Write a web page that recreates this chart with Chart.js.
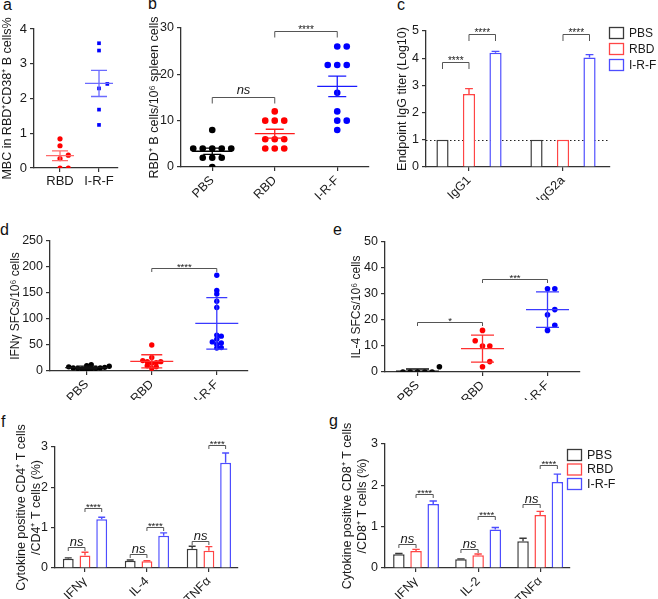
<!DOCTYPE html>
<html>
<head>
<meta charset="utf-8">
<script src="https://cdn.jsdelivr.net/npm/chart.js@4"></script>
<style>
  body { margin: 0; width: 658px; height: 599px; position: relative; background: #fff; overflow: hidden; font-family: Arial, "Liberation Sans", sans-serif; }
  canvas { position: absolute; }
  .tag { position: absolute; font-size: 16px; line-height: 16px; color: #111; }
</style>
</head>
<body>
<div class="tag" style="left:3px;top:-3.5px">a</div>
<div class="tag" style="left:148px;top:-4.5px">b</div>
<div class="tag" style="left:397px;top:-3.5px">c</div>
<div class="tag" style="left:0px;top:221.5px">d</div>
<div class="tag" style="left:333px;top:221.5px">e</div>
<div class="tag" style="left:1px;top:413.5px">f</div>
<div class="tag" style="left:329px;top:412.5px">g</div>
<canvas id="pa"></canvas>
<canvas id="pb"></canvas>
<canvas id="pc"></canvas>
<canvas id="pd"></canvas>
<canvas id="pe"></canvas>
<canvas id="pf"></canvas>
<canvas id="pg"></canvas>
<script>
// ---- data ----
// a: memory B cells
const aGroups = ['RBD', 'I-R-F'];
const aRBD = [0.84, 0.64, 0.37, 0.27, 0, 0];
const aIRF = [3.59, 3.38, 2.42, 2.29, 1.68, 1.24];

// b: RBD+ B cells
const bGroups = ['PBS', 'RBD', 'I-R-F'];
const bPBS = [8, 4, 4, 4, 4, 4, 2, 2, 2, 0];
const bRBD = [12, 10, 10, 10, 6, 6, 6, 4, 4, 4];
const bIRF = [26, 26, 22, 22, 22, 16, 12, 10, 10, 8];

// c: endpoint titers
const cCats = ['IgG1', 'IgG2a'];
const cPBS = [1, 1], cPBSerr = [0, 0];
const cRBD = [2.68, 1], cRBDerr = [0.2, 0];
const cIRF = [4.2, 4.03], cIRFerr = [0.05, 0.1];

// d: IFNγ ELISpot
const dGroups = ['PBS', 'RBD', 'I-R-F'];
const dPBS = [3, 5, 6, 4, 8, 10, 12, 7, 5, 9, 6, 4];
const dRBD = [50, 26, 18, 16, 10, 5, 8, 15, 18, 20];
const dIRF = [184, 155, 148, 134, 122, 67, 69, 61, 56, 51, 54, 44, 45];

// e: IL-4 ELISpot
const eGroups = ['PBS', 'RBD', 'I-R-F'];
const ePBS = [0, 0, 0, 0, 0, 2];
const eRBD = [16, 12, 10, 10, 4, 2];
const eIRF = [32, 32, 24, 22, 18, 16];

// f: CD4+ cytokines
const fCats = ['IFNγ', 'IL-4', 'TNFα'];
const fPBS = [0.23, 0.18, 0.48], fPBSerr = [0.02, 0.02, 0.06];
const fRBD = [0.31, 0.17, 0.43], fRBDerr = [0.08, 0.01, 0.1];
const fIRF = [1.21, 0.8, 2.61], fIRFerr = [0.05, 0.07, 0.24];

// g: CD8+ cytokines
const gCats = ['IFNγ', 'IL-2', 'TNFα'];
const gPBS = [0.33, 0.21, 0.65], gPBSerr = [0.02, 0.01, 0.07];
const gRBD = [0.41, 0.31, 1.28], gRBDerr = [0.04, 0.03, 0.09];
const gIRF = [1.55, 0.93, 2.08], gIRFerr = [0.07, 0.05, 0.19];

const groupNames = ['PBS', 'RBD', 'I-R-F'];

// ---- look ----
const FONT = 'Arial, "Liberation Sans", sans-serif';
const INK = '#1a1a1a';
const AXIS = '#333';
const BAR_COLORS = ['#3a3a3a', '#ff4545', '#4d4dff'];

// spread points of one column so they don't sit on each other (simple beeswarm)
function swarm(vals, pxY, pxX, step, dia) {
  const placed = [];
  const off = new Array(vals.length);
  vals.map((v, i) => i).sort((p, q) => vals[p] - vals[q]).forEach(i => {
    const py = vals[i] * pxY;
    for (let k = 0; ; k++) {
      const dx = (k % 2 ? 1 : -1) * Math.ceil(k / 2) * step;
      if (placed.every(p => (p.x - dx) ** 2 + (p.y - py) ** 2 >= dia * dia)) {
        placed.push({ x: dx, y: py });
        off[i] = dx / pxX;
        break;
      }
    }
  });
  return off;
}

// extra drawing: mean/error lines, error bars, brackets, dotted line, box legend
const marks = {
  id: 'marks',
  beforeDatasetsDraw(chart, args, o) {
    if (o.refY == null) return;
    const { ctx, chartArea: ca, scales: { y } } = chart;
    const py = Math.round(y.getPixelForValue(o.refY)) + 0.5;
    ctx.save();
    ctx.strokeStyle = '#222';
    ctx.lineWidth = 1.2;
    ctx.setLineDash([1.5, 2.5]);
    ctx.beginPath(); ctx.moveTo(ca.left, py); ctx.lineTo(ca.right, py); ctx.stroke();
    ctx.restore();
  },
  afterDatasetsDraw(chart, args, o) {
    const { ctx, chartArea: ca, scales: { x, y } } = chart;
    ctx.save();
    chart.data.datasets.forEach((ds, i) => {
      const meta = chart.getDatasetMeta(i);
      if (o.stat) {
        const v = ds.data.map(p => p.y);
        const n = v.length;
        const m = v.reduce((s, a) => s + a, 0) / n;
        const sd = Math.sqrt(v.reduce((s, a) => s + (a - m) ** 2, 0) / (n - 1));
        const e = o.stat === 'sem' ? sd / Math.sqrt(n) : sd;
        const cx = x.getPixelForValue(i + 1);
        const pm = y.getPixelForValue(m);
        const pt = y.getPixelForValue(m + e);
        const pb = Math.min(y.getPixelForValue(m - e), ca.bottom);
        ctx.strokeStyle = o.lineColors[i];
        ctx.lineWidth = 1.3;
        ctx.beginPath();
        ctx.moveTo(cx - o.meanHalf, pm); ctx.lineTo(cx + o.meanHalf, pm);
        ctx.moveTo(cx, pt); ctx.lineTo(cx, pb);
        ctx.moveTo(cx - o.capHalf, pt); ctx.lineTo(cx + o.capHalf, pt);
        if (pb < ca.bottom) { ctx.moveTo(cx - o.capHalf, pb); ctx.lineTo(cx + o.capHalf, pb); }
        ctx.stroke();
      }
      if (ds.errors) {
        meta.data.forEach((bar, j) => {
          const e = ds.errors[j];
          if (!e) return;
          const top = y.getPixelForValue(ds.data[j].y + e);
          const w = bar.width * 0.32;
          ctx.strokeStyle = ds.borderColor;
          ctx.lineWidth = 1.4;
          ctx.beginPath();
          ctx.moveTo(bar.x, bar.y); ctx.lineTo(bar.x, top);
          ctx.moveTo(bar.x - w, top); ctx.lineTo(bar.x + w, top);
          ctx.stroke();
        });
      }
    });
    const px = v => Array.isArray(v) ? chart.getDatasetMeta(v[0]).data[v[1]].x : x.getPixelForValue(v);
    (o.brackets || []).forEach(b => {
      const x1 = px(b.a), x2 = px(b.b), py = Math.round(y.getPixelForValue(b.y)) + 0.5;
      ctx.strokeStyle = '#555';
      ctx.lineWidth = 1;
      ctx.beginPath();
      ctx.moveTo(x1, py + o.drop); ctx.lineTo(x1, py); ctx.lineTo(x2, py); ctx.lineTo(x2, py + o.drop);
      ctx.stroke();
      ctx.fillStyle = INK;
      ctx.textAlign = 'center';
      ctx.textBaseline = 'alphabetic';
      if (b.t === 'ns') {
        ctx.font = `italic ${o.nsSize}px ${FONT}`;
        ctx.fillText(b.t, (x1 + x2) / 2, py - o.nsGap);
      } else {
        ctx.font = `${o.starSize}px ${FONT}`;
        ctx.fillText(b.t, (x1 + x2) / 2, py + 1);
      }
    });
    if (o.legend) {
      const L = o.legend;
      chart.data.datasets.forEach((ds, i) => {
        const yy = L.y + i * L.gap;
        ctx.strokeStyle = ds.borderColor;
        ctx.lineWidth = 1.3;
        ctx.strokeRect(L.x + 0.5, yy - 5.5, 14, 11);
        ctx.fillStyle = INK;
        ctx.font = `${L.size}px ${FONT}`;
        ctx.textAlign = 'left';
        ctx.textBaseline = 'middle';
        ctx.fillText(ds.label, L.x + L.textDx, yy + 0.5);
      });
    }
    ctx.restore();
  }
};

// one panel = one canvas; box is the canvas, area the plot rectangle (page px)
function panel(id, box, area, o) {
  const [cx, cy, cw, ch] = box;
  const [L, T, R, B] = area;
  const cv = document.getElementById(id);
  cv.width = cw; cv.height = ch;
  cv.style.left = cx + 'px'; cv.style.top = cy + 'px';
  const tickFont = { family: FONT, size: o.tickSize || 12.5 };
  const axisGrid = { drawOnChartArea: false, drawTicks: true, tickLength: 4, color: AXIS, lineWidth: 1.2, offset: false };
  return new Chart(cv, {
    type: o.type,
    data: { datasets: o.datasets },
    options: {
      responsive: false,
      animation: false,
      layout: { autoPadding: false, padding: { left: 0, top: T - cy, right: cx + cw - R, bottom: 0 } },
      scales: {
        x: {
          type: 'linear', offset: false, min: o.xMin, max: o.xMax,
          afterFit: s => { s.height = cy + ch - B; },
          afterBuildTicks: s => { s.ticks = o.cats.map((c, i) => ({ value: i + 1 })); },
          ticks: {
            callback: v => o.cats[v - 1], autoSkip: false,
            minRotation: o.rot, maxRotation: o.rot, padding: 2, color: INK,
            font: { family: FONT, size: o.xSize || 12.5 }
          },
          grid: axisGrid,
          border: { color: AXIS, width: 1.3 }
        },
        y: {
          min: 0, max: o.yMax,
          afterFit: s => { s.width = L - cx; },
          ticks: { stepSize: o.yStep, padding: 3, color: INK, font: tickFont },
          grid: axisGrid,
          border: { color: AXIS, width: 1.3 },
          title: {
            display: true, text: o.title, color: INK,
            font: { family: FONT, size: o.titleSize, lineHeight: 1.2 },
            padding: { top: o.titlePad, bottom: 0 }
          }
        }
      },
      plugins: { legend: { display: false }, tooltip: { enabled: false }, marks: o.marks }
    },
    plugins: [marks]
  });
}

// scatter datasets, with swarm offsets computed from the plot size
function columns(groups, colors, area, xr, yMax, step, dia, radius, styles) {
  const pxY = (area[3] - area[1]) / yMax;
  const pxX = (area[2] - area[0]) / (xr[1] - xr[0]);
  return groups.map((vals, i) => {
    const off = swarm(vals, pxY, pxX, step, dia);
    return {
      data: vals.map((v, j) => ({ x: i + 1 + off[j], y: v })),
      backgroundColor: colors[i], borderWidth: 0,
      pointRadius: radius, pointStyle: styles ? styles[i] : 'circle'
    };
  });
}

function bars(series, errs) {
  return series.map((s, i) => ({
    label: groupNames[i],
    data: s.map((v, j) => ({ x: j + 1, y: v })),
    errors: errs[i],
    backgroundColor: '#fff', borderColor: BAR_COLORS[i], borderWidth: 1.5
  }));
}

// ---- a ----
{
  const area = [34, 29, 118, 168], xr = [0.333, 2.487];
  panel('pa', [0, 0, 125, 200], area, {
    type: 'scatter', cats: aGroups, rot: 0, xSize: 13, xMin: xr[0], xMax: xr[1],
    yMax: 4, yStep: 1, tickSize: 13,
    title: 'MBC in RBD⁺CD38⁺ B cells%', titleSize: 12.5, titlePad: 0.5,
    datasets: columns([aRBD, aIRF], ['#ff0000', '#0000ff'], area, xr, 4, 8.3, 5.5, 2.6, ['circle', 'rect']),
    marks: { stat: 'sem', lineColors: ['#ff6b6b', '#6b6bff'], meanHalf: 14, capHalf: 8 }
  });
}

// ---- b ----
{
  const area = [181, 28, 368.5, 167], xr = [0.5, 3.5];
  panel('pb', [125, 0, 245, 200], area, {
    type: 'scatter', cats: bGroups, rot: 45, xMin: xr[0], xMax: xr[1],
    yMax: 30, yStep: 10, tickSize: 12.5,
    title: 'RBD⁺ B cells/10⁶ spleen cells', titleSize: 12.5, titlePad: 22.5,
    datasets: columns([bPBS, bRBD, bIRF], ['#000', '#ff0000', '#0000ff'], area, xr, 30, 9.5, 7.5, 3.3),
    marks: {
      stat: 'sem', lineColors: ['#000', '#ff1a1a', '#1a1aff'], meanHalf: 20, capHalf: 9,
      brackets: [{ a: 1, b: 2, y: 15.1, t: 'ns' }, { a: 2, b: 3, y: 29.3, t: '****' }],
      drop: 6, nsSize: 13, nsGap: 4, starSize: 10
    }
  });
}

// ---- c ----
{
  panel('pc', [330, 0, 328, 200], [426, 31, 610, 167], {
    type: 'bar', cats: cCats, rot: 45, xMin: 0.5426, xMax: 2.5,
    yMax: 5, yStep: 1, tickSize: 12.5,
    title: 'Endpoint IgG titer (Log10)', titleSize: 12.5, titlePad: 65.5,
    datasets: bars([cPBS, cRBD, cIRF], [cPBSerr, cRBDerr, cIRFerr]).map(d => ({ ...d, categoryPercentage: 0.846, barPercentage: 0.46 })),
    marks: {
      refY: 1,
      brackets: [
        { a: [0, 0], b: [1, 0], y: 3.85, t: '****' },
        { a: [1, 0], b: [2, 0], y: 4.9, t: '****' },
        { a: [1, 1], b: [2, 1], y: 4.9, t: '****' }
      ],
      drop: 6.5, nsSize: 13, nsGap: 3, starSize: 10,
      legend: { x: 279, y: 33, gap: 16, textDx: 20, size: 12 }
    }
  });
}

// ---- d ----
{
  const area = [50, 241, 248, 371], xr = [0.435, 3.48];
  panel('pd', [0, 190, 320, 210], area, {
    type: 'scatter', cats: dGroups, rot: 45, xMin: xr[0], xMax: xr[1],
    yMax: 250, yStep: 50, tickSize: 12.5,
    title: 'IFNγ SFCs/10⁶ cells', titleSize: 12, titlePad: 8.8,
    datasets: columns([dPBS, dRBD, dIRF], ['#000', '#ff0000', '#0000ff'], area, xr, 250, 4.5, 3.2, 2.7),
    marks: {
      stat: 'sd', lineColors: ['#111', '#ff3030', '#3a3aff'], meanHalf: 21.5, capHalf: 10.5,
      brackets: [{ a: 2, b: 3, y: 199, t: '****' }],
      drop: 3.5, nsSize: 13, nsGap: 3, starSize: 9.5
    }
  });
}

// ---- e ----
{
  const area = [385, 242, 580, 372], xr = [0.5, 3.5];
  panel('pe', [330, 190, 328, 210], area, {
    type: 'scatter', cats: eGroups, rot: 45, xMin: xr[0], xMax: xr[1],
    yMax: 50, yStep: 10, tickSize: 12.5,
    title: 'IL-4 SFCs/10⁶ cells', titleSize: 12, titlePad: 19.8,
    datasets: columns([ePBS, eRBD, eIRF], ['#000', '#ff0000', '#0000ff'], area, xr, 50, 7.3, 6, 2.8),
    marks: {
      stat: 'sd', lineColors: ['#111', '#ff3030', '#3a3aff'], meanHalf: 21.5, capHalf: 11.5,
      brackets: [{ a: 1, b: 2, y: 19.2, t: '*' }, { a: 2, b: 3, y: 35.6, t: '***' }],
      drop: 3.5, nsSize: 13, nsGap: 3, starSize: 9.5
    }
  });
}

// ---- f ----
{
  panel('pf', [0, 385, 330, 214], [55, 447, 238, 568], {
    type: 'bar', cats: fCats, rot: 45, xMin: 0.516, xMax: 3.47,
    yMax: 3, yStep: 1, tickSize: 12.5,
    title: ['Cytokine positive CD4⁺ T cells', '/CD4⁺ T cells (%)'], titleSize: 12.5, titlePad: 14.5,
    datasets: bars([fPBS, fRBD, fIRF], [fPBSerr, fRBDerr, fIRFerr]).map(d => ({ ...d, categoryPercentage: 0.81, barPercentage: 0.65 })),
    marks: {
      brackets: [
        { a: [0, 0], b: [1, 0], y: 0.51, t: 'ns' }, { a: [1, 0], b: [2, 0], y: 1.48, t: '****' },
        { a: [0, 1], b: [1, 1], y: 0.35, t: 'ns' }, { a: [1, 1], b: [2, 1], y: 1.02, t: '****' },
        { a: [0, 2], b: [1, 2], y: 0.68, t: 'ns' }, { a: [1, 2], b: [2, 2], y: 3.04, t: '****' }
      ],
      drop: 3.5, nsSize: 13, nsGap: 2, starSize: 9.5
    }
  });
}

// ---- g ----
{
  panel('pg', [330, 385, 328, 214], [385, 444, 570, 568], {
    type: 'bar', cats: gCats, rot: 45, xMin: 0.5, xMax: 3.48,
    yMax: 3, yStep: 1, tickSize: 12.5,
    title: ['Cytokine positive CD8⁺ T cells', '/CD8⁺ T cells (%)'], titleSize: 12.5, titlePad: 10.5,
    datasets: bars([gPBS, gRBD, gIRF], [gPBSerr, gRBDerr, gIRFerr]).map(d => ({ ...d, categoryPercentage: 0.83, barPercentage: 0.67 })),
    marks: {
      brackets: [
        { a: [0, 0], b: [1, 0], y: 0.57, t: 'ns' }, { a: [1, 0], b: [2, 0], y: 1.79, t: '****' },
        { a: [0, 1], b: [1, 1], y: 0.47, t: 'ns' }, { a: [1, 1], b: [2, 1], y: 1.26, t: '****' },
        { a: [0, 2], b: [1, 2], y: 1.55, t: 'ns' }, { a: [1, 2], b: [2, 2], y: 2.48, t: '****' }
      ],
      drop: 3.5, nsSize: 13, nsGap: 2, starSize: 9.5,
      legend: { x: 237, y: 70, gap: 14.5, textDx: 20, size: 12.5 }
    }
  });
}
</script>
</body>
</html>
